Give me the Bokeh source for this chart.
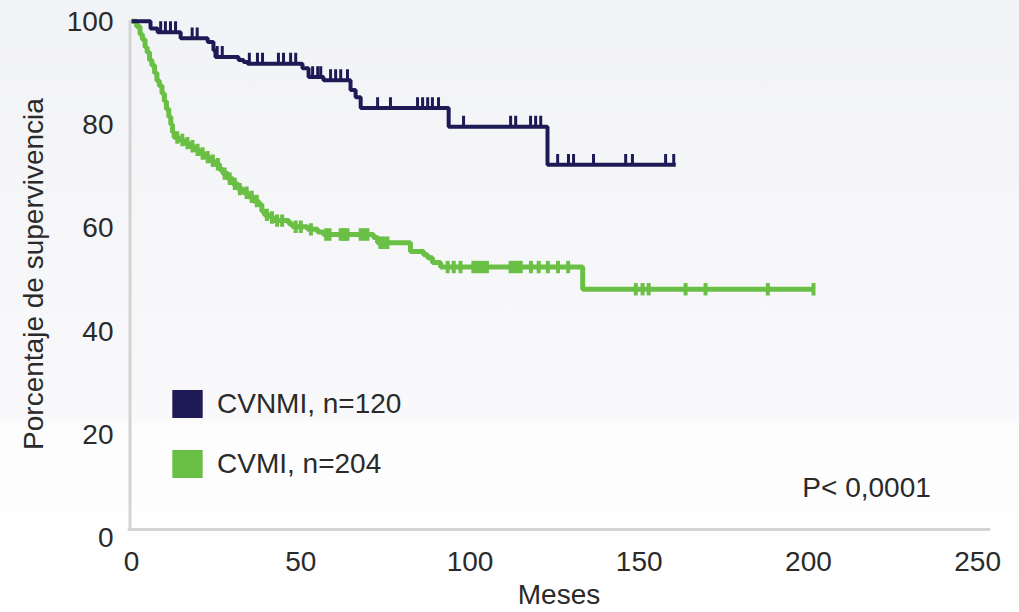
import numpy as np
from bokeh.plotting import figure
from bokeh.models import Range1d, FixedTicker, Legend, LegendItem, Label, Span
from bokeh.embed import file_html
from bokeh.resources import INLINE

# ---------------- data ----------------
x_ticks = [0, 50, 100, 150, 200, 250]
y_ticks = [0, 20, 40, 60, 80, 100]

# CVNMI (n=120): step times (months) and survival (%) after each step
blue_t = [0, 5.6, 7.7, 14.5, 22.5, 24.2, 24.8, 31.6, 33.1, 34.3, 50.5, 52.3,
          56.7, 64.7, 66.2, 67.7, 93.7, 122.9]
blue_s = [100, 98.6, 97.9, 96.7, 96.0, 94.4, 93.1, 92.5, 92.1, 91.8, 90.9, 89.2,
          88.6, 86.7, 85.3, 83.2, 79.6, 72.2]
blue_end = 160.8
blue_cens = [8.6, 10.0, 11.5, 13.0, 17.9, 19.4, 25.3, 26.8, 34.8, 37.2, 38.7, 43.4,
             44.9, 47.0, 48.5, 53.5, 55.0, 55.9, 58.8, 60.3, 61.8, 63.8, 72.7, 76.5,
             84.5, 86.0, 87.5, 88.9, 90.7, 98.1, 112.0, 113.5, 117.9, 119.4, 120.9,
             125.9, 129.1, 130.6, 136.5, 146.0, 148.0, 157.8, 160.2]

# CVMI (n=204)
green_t = [0, 1.5, 2.5, 3.2, 4.0, 4.6, 5.3, 6.0, 6.8, 7.5, 8.2, 9.0, 9.7, 10.3,
           11.0, 11.6, 12.1, 12.6, 14.0, 15.5, 17.0, 18.5, 20.0, 21.5, 23.0, 24.5,
           26.0, 27.0, 28.5, 30.0, 31.5, 33.0, 34.5, 36.0, 37.5, 38.5, 39.3, 41.0,
           42.0, 46.5, 47.6, 52.0, 55.0, 56.7, 71.5, 72.7, 82.4, 86.3, 87.5, 88.9,
           91.3, 133.3]
green_s = [100, 99, 97.5, 96.5, 95, 94, 92.5, 91.5, 90, 88.5, 87.5, 86, 84.5, 83,
           81.5, 80, 78.5, 77.5, 77, 76.4, 75.8, 75.1, 74.4, 73.7, 73, 72.3,
           71.3, 70.5, 69.5, 68.5, 67.5, 66.8, 66, 65.2, 64.5, 63.2, 62.5, 62,
           61.4, 60.8, 60.2, 59.7, 59.2, 58.7, 58.1, 57.1, 55.4, 54.8, 54.2, 53.3,
           52.4, 48.1]
green_end = 201.5
green_cens = [13.5, 15.0, 16.5, 18.0, 19.5, 21.0, 22.5, 24.0, 25.5, 27.5, 29.0,
              30.5, 32.0, 34.0, 35.5, 37.0, 40.0, 41.5, 43.0, 44.5, 48.5, 50.0,
              53.0, 57.5, 58.5, 61.8, 62.5, 63.2, 63.8, 67.7, 68.7, 69.7, 73.5,
              74.5, 75.6, 93.4, 95.2, 97.2, 101.0, 102.0, 103.0, 104.0, 105.0,
              112.0, 113.0, 114.0, 115.0, 118.0, 120.3, 123.0, 126.0, 129.0,
              149.0, 151.0, 152.8, 163.7, 169.6, 188.0, 201.5]

labels = ["CVNMI, n=120", "CVMI, n=204"]
p_text = "P< 0,0001"

# ---------------- style ----------------
BLUE = "#1e1a56"
GREEN = "#6abf45"
AXIS_GRAY = "#d3d3d3"
TXT = "#2a2a2a"
FONT = "Liberation Sans"
FS = "28px"


def level(ts, ss, t):
    idx = np.searchsorted(np.asarray(ts), np.asarray(t), side="right") - 1
    return np.asarray(ss)[idx]


p = figure(width=1019, height=612, output_backend="svg", toolbar_location=None,
           x_range=Range1d(-1.2, 253.8), y_range=Range1d(0, 102.1),
           min_border_left=127, min_border_right=29, min_border_top=10,
           min_border_bottom=73)
p.styles = {"background": "linear-gradient(to bottom, #f2f3f6 0%, #f9f9fb 68%, #fdfdfe 70%, #ffffff 100%)"}
p.background_fill_alpha = 0
p.border_fill_alpha = 0
p.outline_line_color = None
p.grid.visible = False

# axes
p.xaxis.ticker = FixedTicker(ticks=x_ticks)
p.yaxis.ticker = FixedTicker(ticks=y_ticks)
for ax in (p.xaxis, p.yaxis):
    ax.axis_line_color = None
    ax.major_tick_line_color = None
    ax.minor_tick_line_color = None
    ax.major_tick_out = 0
    ax.major_tick_in = 0
    ax.minor_tick_out = 0
    ax.minor_tick_in = 0
    ax.major_label_text_font = FONT
    ax.major_label_text_font_size = FS
    ax.major_label_text_color = TXT
    ax.axis_label_text_font = FONT
    ax.axis_label_text_font_size = FS
    ax.axis_label_text_font_style = "normal"
    ax.axis_label_text_color = TXT
p.xaxis.axis_label = "Meses"
p.yaxis.axis_label = "Porcentaje de supervivencia"
p.xaxis.major_label_standoff = 14
p.xaxis.axis_label_standoff = 5
p.yaxis.major_label_standoff = 14
p.yaxis.axis_label_standoff = 15

# visible axis lines (light gray L)
AXIS_Y = 1.54
AXIS_X = -0.45
p.add_layout(Span(location=AXIS_Y, dimension="width", line_color=AXIS_GRAY, line_width=3))
p.segment(x0=[AXIS_X], y0=[AXIS_Y], x1=[AXIS_X], y1=[100.2], line_color=AXIS_GRAY, line_width=3)

# curves
p.step(x=green_t + [green_end], y=green_s + [green_s[-1]], mode="after",
       line_color=GREEN, line_width=5)
gc = np.array(green_cens)
gl = level(green_t, green_s, gc)
p.segment(x0=gc, x1=gc, y0=gl - 1.2, y1=gl + 1.2, line_color=GREEN, line_width=4)

p.step(x=blue_t + [blue_end], y=blue_s + [blue_s[-1]], mode="after",
       line_color=BLUE, line_width=4)
bc = np.array(blue_cens)
bl = level(blue_t, blue_s, bc)
p.segment(x0=bc, x1=bc, y0=bl, y1=bl + 2.1, line_color=BLUE, line_width=3)

# legend (square swatches); glyph renderers hold one NaN row so only the swatch shows
nan = [float("nan")]
rb = p.quad(left=nan, right=nan, top=nan, bottom=nan, fill_color=BLUE, line_color=None)
rg = p.quad(left=nan, right=nan, top=nan, bottom=nan, fill_color=GREEN, line_color=None)
legend = Legend(items=[LegendItem(label=labels[0], renderers=[rb]),
                       LegendItem(label=labels[1], renderers=[rg])],
                location=(41, 56), padding=0, margin=0, border_line_color=None,
                background_fill_alpha=0, glyph_width=38, glyph_height=35,
                spacing=25, label_standoff=11, label_height=35,
                label_text_font=FONT, label_text_font_size=FS,
                label_text_color=TXT)
p.add_layout(legend)

p.add_layout(Label(x=198.2, y=9.6, text=p_text, text_font=FONT, text_font_size=FS,
                   text_color=TXT, text_align="left", text_baseline="alphabetic"))

open("out.html", "w").write(file_html(p, INLINE))
